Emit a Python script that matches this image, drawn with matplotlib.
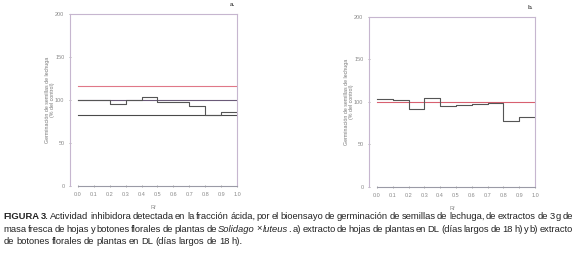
import matplotlib
matplotlib.use("Agg")
import matplotlib.pyplot as plt

# Rf bin edges (both panels)
rf = [0.0, 0.1, 0.2, 0.3, 0.4, 0.5, 0.6, 0.7, 0.8, 0.9, 1.0]
rf_ticks = ["0.0", "0.1", "0.2", "0.3", "0.4", "0.5", "0.6", "0.7", "0.8", "0.9", "1.0"]

# a) leaves extract, germination % of control per Rf zone
germ_a = [100, 100, 95, 100, 103, 97.5, 97.5, 93, 82.5, 85.5]
ref_a = [116, 100, 82.5]          # upper limit, control, lower limit

# b) floral buds extract
germ_b = [103.5, 102, 91.5, 105, 95.5, 96.5, 97.5, 98.5, 77.5, 82.5]
ref_b = [100]

yticks = [0, 50, 100, 150, 200]

fam = ["Liberation Sans Narrow", "Liberation Sans", "DejaVu Sans"]
plt.rcParams["font.family"] = fam

fig = plt.figure(figsize=(5.77, 2.62), dpi=100)

spine_col = "#c6b6cf"
tick_col = "#8a8a8a"


def panel(rect, vals, refs, ref_cols, letter):
    ax = fig.add_axes(rect)
    ax.set_xlim(-0.05, 1.0)
    ax.set_ylim(0, 200)
    for r, c in zip(refs, ref_cols):
        ax.plot([rf[0], rf[-1]], [r, r], color=c, lw=0.8)
    ax.step(rf, vals + [vals[-1]], where="post", color="#555555", lw=0.8)
    for s in ax.spines.values():
        s.set_color(spine_col)
        s.set_linewidth(0.8)
    ax.spines["bottom"].set_bounds(0, 1.0)
    ax.spines["bottom"].set_color("#9a9aa6")
    ax.set_xticks(rf)
    ax.set_xticklabels(rf_ticks)
    ax.set_yticks(yticks)
    ax.tick_params(labelsize=4, colors=tick_col, length=2, width=0.5,
                   direction="inout", pad=3)
    ax.set_xlabel("Rf", fontsize=4, color=tick_col, labelpad=6)
    ax.set_ylabel("Germinación de semillas de lechuga\n(% del control)",
                  fontsize=3.8, color="#777777", labelpad=0, linespacing=1.1)
    ax.text(0.99, 1.04, letter, transform=ax.transAxes, fontsize=4.5,
            color="#555555", ha="right", va="bottom", fontweight="bold")
    return ax


panel([0.1213, 0.290, 0.2894, 0.6565], germ_a, ref_a,
      ["#e07888", "#6a5a78", "#4a4a4a"], "a.")
panel([0.6395, 0.2863, 0.2877, 0.649], germ_b, ref_b,
      ["#d86070"], "b.")

# caption, justified word by word
N, B, I = ("normal", "normal"), ("bold", "normal"), ("normal", "italic")
line1 = "FIGURA 3. Actividad inhibidora detectada en la fracción ácida, por el bioensayo de germinación de semillas de lechuga, de extractos de 3 g de"
line2 = "masa fresca de hojas y botones florales de plantas de Solidago × luteus. a) extracto de hojas de plantas en DL (días largos de 18 h) y b) extracto"
line3 = "de botones florales de plantas en DL (días largos de 18 h)."


def words_of(line):
    out = []
    for i, w in enumerate(line.split(" ")):
        if line.startswith("FIGURA") and i < 2:
            out.append([(w, B)])
        elif w == "Solidago":
            out.append([(w, I)])
        elif w == "luteus.":
            out.append([("luteus", I), (".", N)])
        else:
            out.append([(w, N)])
    return out


renderer = fig.canvas.get_renderer()
W = fig.get_figwidth() * fig.dpi
H = fig.get_figheight() * fig.dpi
size = 6.75
x0, x1 = 3.5, 573.0


def text_width(s):
    t = fig.text(0, 0, s, fontsize=size)
    wd = t.get_window_extent(renderer).width
    t.remove()
    return wd


space = text_width("a a") - text_width("aa")


def draw_caption_line(line, ypx, justify):
    items = []
    total = 0
    for w in words_of(line):
        pieces = []
        for txt, (wt, st) in w:
            t = fig.text(0, 1 - ypx / H, txt, fontsize=size, fontweight=wt,
                         fontstyle=st, color="#222222", va="baseline")
            wd = t.get_window_extent(renderer).width
            pieces.append((t, wd))
            total += wd
        items.append(pieces)
    if justify:
        gap = (x1 - x0 - total) / (len(items) - 1)
    else:
        gap = space * 0.8
    x = x0
    for pieces in items:
        for t, wd in pieces:
            t.set_x(x / W)
            x += wd
        x += gap


draw_caption_line(line1, 219, True)
draw_caption_line(line2, 231.5, True)
draw_caption_line(line3, 244, False)

fig.savefig("out.png", dpi=100)
